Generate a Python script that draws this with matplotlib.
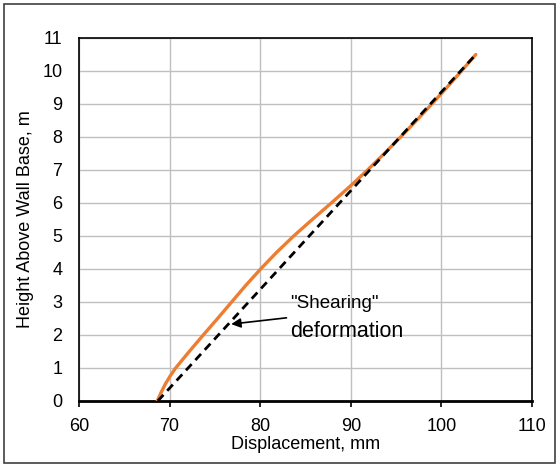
import matplotlib
matplotlib.use("Agg")
import matplotlib.pyplot as plt
from matplotlib.patches import Rectangle

plt.rcParams['font.family'] = ['Liberation Sans', 'DejaVu Sans']

# Orange curve (displacement profile)
height_m = [0, 0.25, 0.5, 0.75, 1, 1.5, 2, 2.5, 3, 3.5, 4, 4.5, 5, 5.5, 6, 6.5, 7,
            7.5, 8, 8.5, 9, 9.5, 10, 10.5]
disp_mm = [68.64, 69.05, 69.5, 70.05, 70.67, 72.17, 73.72, 75.3, 76.85, 78.4, 80.05,
           81.8, 83.7, 85.75, 87.85, 89.9, 91.85, 93.7, 95.5, 97.25, 98.95, 100.6,
           102.22, 103.8]

# Straight "shearing" line
shear_x = [68.7, 103.8]
shear_y = [0, 10.5]

x_ticks = [60, 70, 80, 90, 100, 110]
y_ticks = list(range(0, 12))

fig = plt.figure(figsize=(5.59, 4.66), dpi=100)
ax = fig.add_axes([0.1413, 0.1395, 0.8104, 0.779])

ax.plot(disp_mm, height_m, color='#ED7D31', lw=2.4, zorder=3,
        solid_capstyle='round', solid_joinstyle='round')
ax.plot(shear_x, shear_y, color='black', lw=2.0, ls=(0, (3, 2)), zorder=4)

ax.set_xlim(60, 110)
ax.set_ylim(0, 11)
ax.set_xticks(x_ticks)
ax.set_yticks(y_ticks)
ax.grid(True, color='#BFBFBF', lw=1.0)
ax.set_axisbelow(True)

for side in ['left', 'top', 'right']:
    ax.spines[side].set_linewidth(1.2)
    ax.spines[side].set_color('black')
ax.spines['bottom'].set_linewidth(2.0)

ax.tick_params(axis='x', direction='out', length=4, width=1.2, pad=8, labelsize=13)
ax.tick_params(axis='y', length=0, pad=12, labelsize=13)

ax.set_xlabel('Displacement, mm', fontsize=13, labelpad=1)
ax.set_ylabel('Height Above Wall Base, m', fontsize=13, labelpad=6)

# Annotation
ax.annotate('', xy=(76.8, 2.33), xytext=(82.9, 2.52),
            arrowprops=dict(arrowstyle='-|>', color='black', lw=1.2,
                            mutation_scale=14, shrinkA=0, shrinkB=0))
ax.text(83.3, 2.94, '"Shearing"', fontsize=13.5, ha='left', va='center')
ax.text(83.3, 2.12, 'deformation', fontsize=15.5, ha='left', va='center')

# Outer frame
fig.patches.append(Rectangle((0.007, 0.0064), 0.9857, 0.985, transform=fig.transFigure,
                             fill=False, edgecolor='#404040', lw=1.2))

fig.savefig('out.png', dpi=100)
